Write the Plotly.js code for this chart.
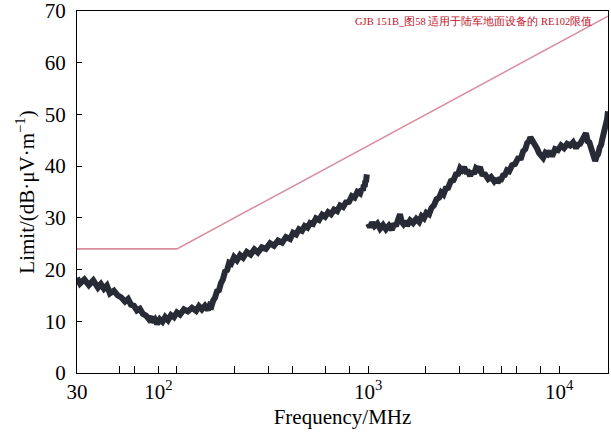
<!DOCTYPE html>
<html>
<head>
<meta charset="utf-8">
<script src="https://cdn.plot.ly/plotly-3.0.1.min.js"></script>
<style>
html,body{margin:0;padding:0;background:#fff;}
#chart{width:611px;height:435px;}
</style>
</head>
<body>
<div id="chart"></div>
<script>
// Limit line (GJB 151B RE102, army ground equipment)
const limitFreq = [30, 100, 18000];
const limitLevel = [24, 24, 69];

// Measured emission, band 1 (30 MHz – ~1 GHz)
const freqLow = [30, 31.1, 32.8, 34.6, 36.5, 38.6, 40, 41.5, 43, 44.6, 46.8, 49, 51.2, 53.5, 55.5, 57.5, 59.6, 61.8, 64, 66.4, 68.9, 71.4, 73.2, 75, 76.8, 78.7, 81.3, 84, 86.8, 89.8, 93.1, 96.5, 100, 103.8, 108.8, 114, 119.8, 126, 130.4, 135, 140.1, 145.5, 148.5, 151.6, 154.7, 158, 162, 166, 170, 174, 178.5, 183, 187.5, 192, 199, 206, 214, 222, 232, 243, 254, 265, 278, 292, 307, 322, 338, 355, 372, 391, 405, 420, 435, 451, 466, 482, 498, 515, 534, 554, 575, 596, 618, 640, 664, 689, 714, 740, 767, 795, 822, 850, 879, 908, 925, 940, 950, 960, 968, 975, 985];
const levelLow = [18.4, 17.3, 18.1, 17.0, 17.9, 16.5, 17.2, 16.3, 16.9, 15.4, 15.9, 15.0, 14.6, 13.8, 14.3, 13.2, 13.0, 12.1, 12.4, 11.4, 11.1, 10.4, 10.9, 9.8, 10.3, 9.5, 10.4, 9.9, 10.8, 10.2, 11.2, 10.8, 11.7, 11.3, 12.3, 11.9, 12.6, 12.0, 12.9, 12.3, 13.0, 12.2, 13.1, 12.9, 14.0, 14.5, 15.8, 16.0, 17.4, 18.1, 19.6, 19.9, 21.3, 21.1, 22.4, 21.8, 22.8, 22.3, 23.4, 22.9, 23.9, 23.3, 24.3, 24.0, 25.1, 24.6, 25.6, 25.2, 26.3, 25.9, 27.1, 26.8, 27.8, 27.5, 28.4, 28.1, 29.0, 28.8, 29.9, 29.6, 30.6, 30.2, 31.1, 30.7, 31.6, 31.3, 32.4, 32.1, 33.0, 33.1, 34.2, 33.9, 35.0, 34.7, 35.6, 35.3, 36.4, 36.0, 37.2, 36.9, 38.4];

// Measured emission, band 2 (~1 GHz – 18 GHz)
const freqHigh = [1000, 1023, 1050, 1080, 1118, 1156, 1198, 1240, 1286, 1334, 1366, 1400, 1434, 1469, 1500, 1530, 1565, 1600, 1660, 1720, 1785, 1850, 1905, 1960, 2020, 2085, 2145, 2210, 2280, 2353, 2415, 2480, 2550, 2622, 2710, 2800, 2880, 2958, 3030, 3100, 3180, 3258, 3340, 3420, 3500, 3585, 3670, 3760, 3850, 3946, 4100, 4250, 4400, 4563, 4660, 4760, 4860, 4967, 5080, 5200, 5330, 5470, 5670, 5870, 6090, 6316, 6480, 6650, 6800, 6952, 7070, 7200, 7340, 7482, 7660, 7850, 8040, 8239, 8470, 8700, 8940, 9183, 9510, 9850, 10220, 10600, 11000, 11400, 11820, 12250, 12550, 12850, 13170, 13500, 13800, 14100, 14390, 14690, 15050, 15420, 15700, 16000, 16280, 16560, 16780, 17000, 17190, 17380, 17600, 17800, 18000];
const levelHigh = [28.9, 28.2, 29.1, 28.4, 28.9, 27.9, 28.6, 27.8, 28.5, 27.7, 28.9, 28.4, 29.6, 30.7, 29.2, 28.8, 29.4, 28.5, 29.5, 29.0, 29.8, 29.2, 30.3, 29.9, 31.0, 30.7, 31.9, 32.4, 33.6, 33.9, 34.9, 34.5, 35.7, 35.8, 37.1, 37.3, 38.4, 38.5, 39.6, 39.2, 39.8, 38.9, 38.9, 38.1, 39.0, 38.5, 39.6, 39.3, 39.8, 38.5, 38.4, 37.5, 37.9, 37.1, 37.6, 36.8, 37.4, 37.4, 38.2, 38.3, 39.2, 39.0, 40.2, 40.4, 41.5, 41.6, 42.9, 43.3, 44.5, 44.8, 45.6, 45.2, 44.8, 44.0, 43.4, 42.5, 42.2, 41.6, 42.6, 42.3, 42.9, 41.9, 43.3, 43.1, 44.0, 43.5, 44.3, 44.0, 44.6, 43.5, 44.2, 44.3, 45.0, 45.6, 46.4, 44.8, 44.6, 43.5, 42.2, 41.0, 41.9, 42.4, 43.6, 44.1, 45.1, 45.9, 46.6, 47.3, 48.1, 49.1, 50.6];

// Labelled x ticks (as placed in the reference) and unlabelled minor ticks
const xTickVals = [30, 80, 1000, 10000];
const xTickText = ['30', '10<sup>2</sup>', '10<sup>3</sup>', '10<sup>4</sup>'];
const xMinorVals = [50, 60, 100, 200, 300, 400, 600, 800, 2000, 3000, 4000, 5000, 6000, 8000];
const yTickVals = [0, 10, 20, 30, 40, 50, 60, 70];

const chartTitle = 'GJB 151B_图58 适用于陆军地面设备的 RE102限值';
const xTitle = 'Frequency/MHz';
const yTitle = 'Limit/(dB·μV·m<sup>−1</sup>)';

const serif = 'Liberation Serif';
const traceColor = '#282a36';

const data = [
  {x: freqLow, y: levelLow, type: 'scatter', mode: 'lines',
   line: {color: traceColor, width: 6}, hoverinfo: 'skip', showlegend: false},
  {x: freqHigh, y: levelHigh, type: 'scatter', mode: 'lines',
   line: {color: traceColor, width: 6}, hoverinfo: 'skip', showlegend: false},
  {x: limitFreq, y: limitLevel, type: 'scatter', mode: 'lines',
   line: {color: '#d98ea0', width: 1.6}, hoverinfo: 'skip', showlegend: false}
];

const layout = {
  width: 611, height: 435,
  margin: {l: 77, r: 3, t: 11, b: 62},
  paper_bgcolor: '#ffffff', plot_bgcolor: '#ffffff',
  font: {family: serif, size: 21, color: '#000000'},
  showlegend: false,
  xaxis: {
    type: 'log',
    range: [Math.log10(30), Math.log10(18000)],
    tickmode: 'array', tickvals: xTickVals, ticktext: xTickText,
    ticks: 'inside', ticklen: 7, tickwidth: 1, tickcolor: '#000',
    minor: {tickmode: 'array', tickvals: xMinorVals, ticks: 'inside', ticklen: 7, tickwidth: 1, tickcolor: '#000', showgrid: false},
    showline: true, linecolor: '#000', linewidth: 1, mirror: true,
    showgrid: false, zeroline: false,
    tickfont: {family: serif, size: 21, color: '#000'},
    ticklabeloverflow: 'allow',
    title: {text: xTitle, font: {family: serif, size: 21, color: '#000'}, standoff: 6},
    automargin: false
  },
  yaxis: {
    range: [0, 70],
    tickmode: 'array', tickvals: yTickVals,
    ticks: 'inside', ticklen: 5, tickwidth: 1, tickcolor: '#000',
    showline: true, linecolor: '#000', linewidth: 1, mirror: true,
    showgrid: false, zeroline: false,
    tickfont: {family: serif, size: 21, color: '#000'},
    ticklabelstandoff: 6,
    ticklabeloverflow: 'allow',
    title: {text: yTitle, font: {family: serif, size: 21, color: '#000'}, standoff: 4},
    automargin: false
  },
  annotations: [{
    text: chartTitle, xref: 'paper', yref: 'paper',
    x: 0.52, y: 0.972, xanchor: 'left', yanchor: 'middle', showarrow: false,
    font: {family: serif, size: 10.5, color: '#c01028'}
  }]
};

Plotly.newPlot('chart', data, layout, {staticPlot: true, displayModeBar: false});
</script>
</body>
</html>
